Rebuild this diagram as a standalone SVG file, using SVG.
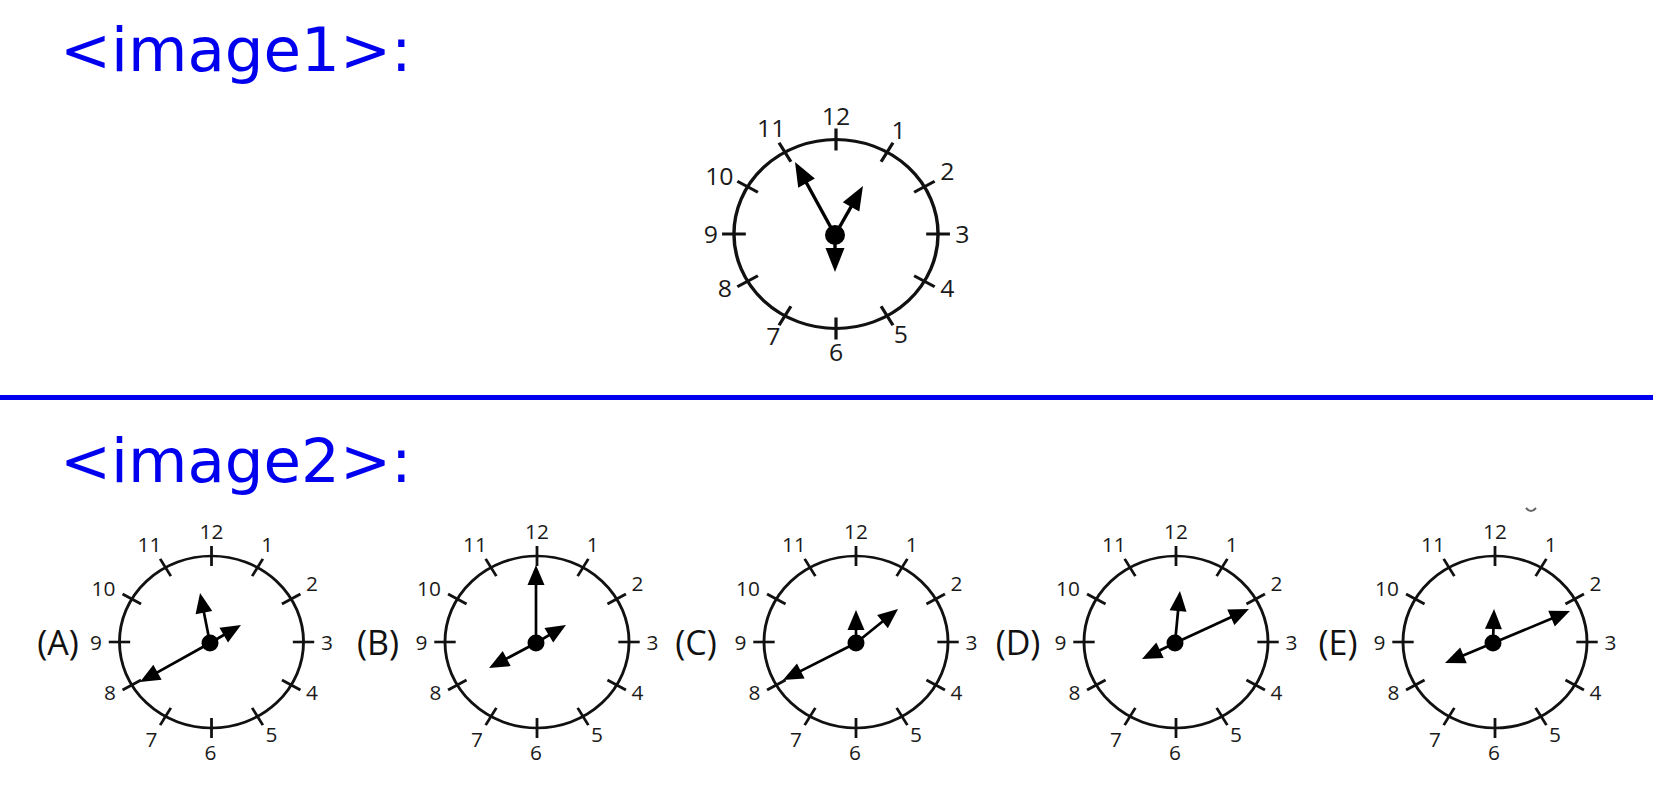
<svg xmlns="http://www.w3.org/2000/svg" xmlns:xlink="http://www.w3.org/1999/xlink" width="1653" height="794" viewBox="0 0 1653 794">
<style>
.hdr{font-family:"DejaVu Sans",sans-serif;font-size:61px;fill:#0000ee}
.ring{fill:none;stroke:#111;}
.tk{stroke:#111;}
.numT{font-family:"Open Sans","Liberation Sans",sans-serif;font-size:23px;fill:#1a1a1a;text-anchor:middle}
.numB{font-family:"Open Sans","Liberation Sans",sans-serif;font-size:19.5px;fill:#1a1a1a;text-anchor:middle}
.opt{font-family:"Open Sans","Liberation Sans",sans-serif;font-size:34px;fill:#111;text-anchor:middle}
.handT{stroke:#000;stroke-width:3.4;fill:none;marker-end:url(#ahT)}
.handB{stroke:#000;stroke-width:2.7;fill:none;marker-end:url(#ahB)}
.hub{fill:#000}
</style>
<defs>
<marker id="ahT" markerUnits="userSpaceOnUse" markerWidth="24" markerHeight="19" viewBox="0 0 24 19" refX="14" refY="9.5" orient="auto" overflow="visible"><path d="M0,0 L24,9.5 L0,19 z" fill="#000"/></marker>
<marker id="ahB" markerUnits="userSpaceOnUse" markerWidth="20" markerHeight="17" viewBox="0 0 20 17" refX="12" refY="8.5" orient="auto" overflow="visible"><path d="M0,0 L20,8.5 L0,17 z" fill="#000"/></marker>
<g id="faceTop">
<circle class="ring" r="94.5" stroke-width="3.2"/>
<g class="tk" stroke-width="3">
<line x1="0" y1="-83.5" x2="0" y2="-105.5"/>
<line x1="0" y1="-83.5" x2="0" y2="-105.5" transform="rotate(30)"/>
<line x1="0" y1="-83.5" x2="0" y2="-105.5" transform="rotate(60)"/>
<line x1="0" y1="-83.5" x2="0" y2="-105.5" transform="rotate(90)"/>
<line x1="0" y1="-83.5" x2="0" y2="-105.5" transform="rotate(120)"/>
<line x1="0" y1="-83.5" x2="0" y2="-105.5" transform="rotate(150)"/>
<line x1="0" y1="-83.5" x2="0" y2="-105.5" transform="rotate(180)"/>
<line x1="0" y1="-83.5" x2="0" y2="-105.5" transform="rotate(210)"/>
<line x1="0" y1="-83.5" x2="0" y2="-105.5" transform="rotate(240)"/>
<line x1="0" y1="-83.5" x2="0" y2="-105.5" transform="rotate(270)"/>
<line x1="0" y1="-83.5" x2="0" y2="-105.5" transform="rotate(300)"/>
<line x1="0" y1="-83.5" x2="0" y2="-105.5" transform="rotate(330)"/>
</g>
<text class="numT" x="0" y="-109">12</text>
<text class="numT" x="58" y="-95">1</text>
<text class="numT" x="103" y="-54">2</text>
<text class="numT" x="117" y="9">3</text>
<text class="numT" x="103" y="63">4</text>
<text class="numT" x="60" y="109">5</text>
<text class="numT" x="0" y="127">6</text>
<text class="numT" x="-58" y="111">7</text>
<text class="numT" x="-103" y="63">8</text>
<text class="numT" x="-116" y="9">9</text>
<text class="numT" x="-108" y="-49">10</text>
<text class="numT" x="-60" y="-97">11</text>
</g>
<g id="faceB">
<circle class="ring" r="86" stroke-width="2.7"/>
<g class="tk" stroke-width="2.6">
<line x1="0" y1="-76" x2="0" y2="-96"/>
<line x1="0" y1="-76" x2="0" y2="-96" transform="rotate(30)"/>
<line x1="0" y1="-76" x2="0" y2="-96" transform="rotate(60)"/>
<line x1="0" y1="-76" x2="0" y2="-96" transform="rotate(90)"/>
<line x1="0" y1="-76" x2="0" y2="-96" transform="rotate(120)"/>
<line x1="0" y1="-76" x2="0" y2="-96" transform="rotate(150)"/>
<line x1="0" y1="-76" x2="0" y2="-96" transform="rotate(180)"/>
<line x1="0" y1="-76" x2="0" y2="-96" transform="rotate(210)"/>
<line x1="0" y1="-76" x2="0" y2="-96" transform="rotate(240)"/>
<line x1="0" y1="-76" x2="0" y2="-96" transform="rotate(270)"/>
<line x1="0" y1="-76" x2="0" y2="-96" transform="rotate(300)"/>
<line x1="0" y1="-76" x2="0" y2="-96" transform="rotate(330)"/>
</g>
<text class="numB" x="0" y="-103.4">12</text>
<text class="numB" x="52" y="-90.4">1</text>
<text class="numB" x="94" y="-51.4">2</text>
<text class="numB" x="108" y="7.6">3</text>
<text class="numB" x="94" y="57.6">4</text>
<text class="numB" x="56" y="99.6">5</text>
<text class="numB" x="-1" y="117.6">6</text>
<text class="numB" x="-56" y="104.6">7</text>
<text class="numB" x="-95" y="57.6">8</text>
<text class="numB" x="-108" y="7.6">9</text>
<text class="numB" x="-101" y="-46.4">10</text>
<text class="numB" x="-58" y="-90.4">11</text>
</g>
</defs>
<rect width="1653" height="794" fill="#fff"/>

<g id="header1"><text class="hdr" x="60" y="71">&lt;image1&gt;:</text></g>
<g id="separator"><rect x="0" y="395" width="1653" height="5" fill="#0000ee"/></g>
<g id="header2"><text class="hdr" x="60" y="482">&lt;image2&gt;:</text></g>

<g id="clock-main">
<use href="#faceTop" transform="translate(836,234) scale(1.08,1)"/>
<line class="handT" x1="835" y1="235" x2="799.8" y2="170.8"/>
<line class="handT" x1="835" y1="235" x2="858" y2="194.7"/>
<line class="handT" x1="835" y1="235" x2="835" y2="262"/>
<circle class="hub" cx="835" cy="235" r="10"/>
</g>

<g id="clock-A">
<text class="opt" x="58" y="655">(A)</text>
<use href="#faceB" transform="translate(211.5,642) scale(1.07,1)"/>
<line class="handB" x1="210" y1="643" x2="201.6" y2="600.8"/>
<line class="handB" x1="210" y1="643" x2="234.1" y2="629"/>
<line class="handB" x1="210" y1="643" x2="147" y2="678.1"/>
<circle class="hub" cx="210" cy="643" r="8.5"/>
</g>

<g id="clock-B">
<text class="opt" x="378" y="655">(B)</text>
<use href="#faceB" transform="translate(537,642) scale(1.07,1)"/>
<line class="handB" x1="536" y1="643" x2="536" y2="573"/>
<line class="handB" x1="536" y1="643" x2="559.1" y2="629.1"/>
<line class="handB" x1="536" y1="643" x2="496.1" y2="664.2"/>
<circle class="hub" cx="536" cy="643" r="8.5"/>
</g>

<g id="clock-C">
<text class="opt" x="696" y="655">(C)</text>
<use href="#faceB" transform="translate(856,642) scale(1.07,1)"/>
<line class="handB" x1="856" y1="643" x2="856" y2="618"/>
<line class="handB" x1="856" y1="643" x2="891.8" y2="614"/>
<line class="handB" x1="856" y1="643" x2="790.1" y2="676.4"/>
<circle class="hub" cx="856" cy="643" r="8.5"/>
</g>

<g id="clock-D">
<text class="opt" x="1018" y="655">(D)</text>
<use href="#faceB" transform="translate(1176,642) scale(1.07,1)"/>
<line class="handB" x1="1175" y1="643" x2="1179.2" y2="599"/>
<line class="handB" x1="1175" y1="643" x2="1241.7" y2="612.3"/>
<line class="handB" x1="1175" y1="643" x2="1149.2" y2="655.5"/>
<circle class="hub" cx="1175" cy="643" r="8.5"/>
</g>

<g id="clock-E">
<text class="opt" x="1338" y="655">(E)</text>
<use href="#faceB" transform="translate(1495,642) scale(1.07,1)"/>
<line class="handB" x1="1493" y1="643" x2="1493.8" y2="617"/>
<line class="handB" x1="1493" y1="643" x2="1562.6" y2="614.1"/>
<line class="handB" x1="1493" y1="643" x2="1452.4" y2="659.9"/>
<circle class="hub" cx="1493" cy="643" r="8.5"/>
<path d="M1526,508 Q1531,514 1536,508" fill="none" stroke="#666" stroke-width="2"/>
</g>
</svg>
